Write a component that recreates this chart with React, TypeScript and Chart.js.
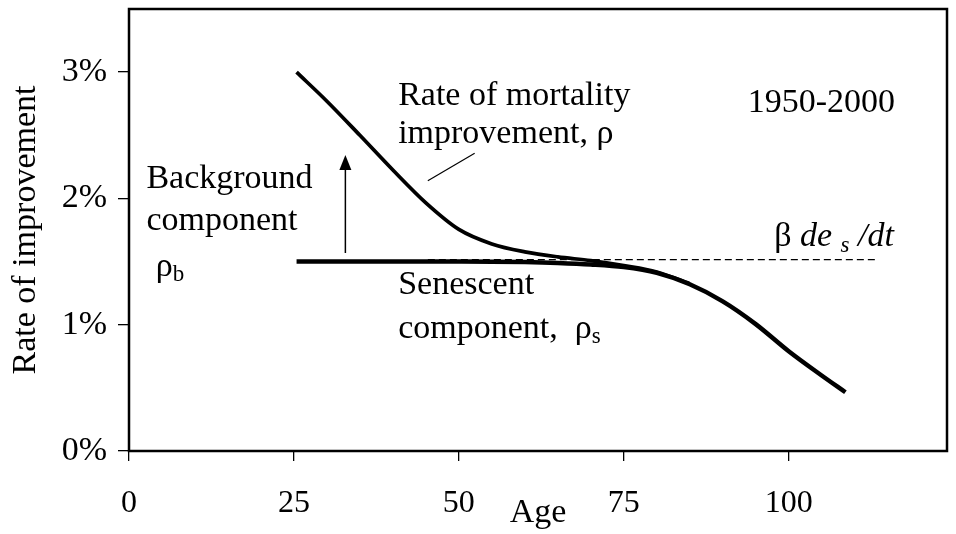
import React, { useEffect, useRef } from "react";
import { Chart, registerables } from "chart.js";

Chart.register(...registerables);

// Total rate of mortality improvement, rho (age, % per year)
const AGE_TOTAL = [25.4, 30, 35, 40, 45, 50, 55, 60, 65, 70, 75, 80, 85];
const RATE_TOTAL = [3.0, 2.77, 2.5, 2.225, 1.965, 1.755, 1.64, 1.577, 1.537, 1.508, 1.468, 1.418, 1.325];

// Senescent component, rho_s
const AGE_SEN = [25.4, 30, 35, 40, 45, 50, 55, 60, 65, 70, 75, 80, 85, 90, 95, 100, 105, 108.6];
const RATE_SEN = [1.5, 1.5, 1.5, 1.5, 1.5, 1.5, 1.499, 1.496, 1.489, 1.477, 1.456, 1.41, 1.32, 1.185, 1.005, 0.79, 0.598, 0.465];

// beta de_s/dt reference (dashed)
const AGE_DASH = [45.3, 113.3];
const RATE_DASH = [1.515, 1.515];

// Background component arrow (age, from rate, to rate)
const ARROW_AGE = 32.8;
const ARROW_RATE = [1.568, 2.344];

// Leader line for the rho label
const LEADER_AGE = [45.3, 52.4];
const LEADER_RATE = [2.14, 2.357];

const X_TICKS = [0, 25, 50, 75, 100];
const Y_TICKS = [0, 1, 2, 3];

const SERIF = "'Liberation Serif', 'Times New Roman', serif";

type Run = { t: string; italic?: boolean; small?: boolean; dy?: number };

// Label anchors in data coordinates (age, rate)
const LABELS: { age: number; rate: number; runs: Run[] }[] = [
  { age: 40.8, rate: 2.74, runs: [{ t: "Rate of mortality" }] },
  { age: 40.8, rate: 2.436, runs: [{ t: "improvement, ρ" }] },
  { age: 93.8, rate: 2.684, runs: [{ t: "1950-2000" }] },
  { age: 2.64, rate: 2.085, runs: [{ t: "Background" }] },
  { age: 2.64, rate: 1.75, runs: [{ t: "component" }] },
  { age: 4.05, rate: 1.386, runs: [{ t: "ρ" }, { t: "b", small: true, dy: 5 }] },
  { age: 40.8, rate: 1.247, runs: [{ t: "Senescent" }] },
  { age: 40.8, rate: 0.895, runs: [{ t: "component,  ρ" }, { t: "s", small: true, dy: 5 }] },
  {
    age: 97.8,
    rate: 1.625,
    runs: [
      { t: "β " },
      { t: "de", italic: true },
      { t: " ", italic: true },
      { t: "s", italic: true, small: true, dy: 6 },
      { t: " /dt", italic: true },
    ],
  },
];

const annotate = {
  id: "annotate",
  afterDatasetsDraw(chart: any) {
    const { ctx, chartArea, scales } = chart;
    const xs = scales.x;
    const ys = scales.y;
    ctx.save();
    // frame
    ctx.strokeStyle = "#000";
    ctx.lineWidth = 2.5;
    ctx.strokeRect(
      chartArea.left,
      chartArea.top,
      chartArea.right - chartArea.left,
      chartArea.bottom - chartArea.top
    );

    // arrow
    const ax = xs.getPixelForValue(ARROW_AGE);
    const ay0 = ys.getPixelForValue(ARROW_RATE[0]);
    const ay1 = ys.getPixelForValue(ARROW_RATE[1]);
    ctx.lineWidth = 1.5;
    ctx.beginPath();
    ctx.moveTo(ax, ay0);
    ctx.lineTo(ax, ay1 + 12);
    ctx.stroke();
    ctx.fillStyle = "#000";
    ctx.beginPath();
    ctx.moveTo(ax, ay1);
    ctx.lineTo(ax - 6, ay1 + 15);
    ctx.lineTo(ax + 6, ay1 + 15);
    ctx.closePath();
    ctx.fill();

    // leader line
    ctx.lineWidth = 1.2;
    ctx.beginPath();
    ctx.moveTo(xs.getPixelForValue(LEADER_AGE[0]), ys.getPixelForValue(LEADER_RATE[0]));
    ctx.lineTo(xs.getPixelForValue(LEADER_AGE[1]), ys.getPixelForValue(LEADER_RATE[1]));
    ctx.stroke();

    // labels
    ctx.textAlign = "left";
    ctx.textBaseline = "alphabetic";
    for (const lab of LABELS) {
      let px = xs.getPixelForValue(lab.age);
      const py = ys.getPixelForValue(lab.rate);
      for (const r of lab.runs) {
        const size = r.small ? 23 : 34;
        ctx.font = `${r.italic ? "italic " : ""}${size}px ${SERIF}`;
        ctx.fillText(r.t, px, py + (r.dy || 0));
        px += ctx.measureText(r.t).width;
      }
    }
    ctx.restore();
  },
};

export default function App() {
  const ref = useRef<HTMLCanvasElement | null>(null);

  useEffect(() => {
    if (!ref.current) return;
    const toXY = (a: number[], b: number[]) => a.map((v, i) => ({ x: v, y: b[i] }));
    const chart = new Chart(ref.current, {
      type: "line",
      data: {
        datasets: [
          {
            label: "Senescent component",
            data: toXY(AGE_SEN, RATE_SEN),
            borderColor: "#000",
            borderWidth: 4.5,
            pointRadius: 0,
            cubicInterpolationMode: "monotone",
            fill: false,
          },
          {
            label: "Rate of mortality improvement",
            data: toXY(AGE_TOTAL, RATE_TOTAL),
            borderColor: "#000",
            borderWidth: 3.7,
            pointRadius: 0,
            cubicInterpolationMode: "monotone",
            fill: false,
          },
          {
            label: "beta de_s/dt",
            data: toXY(AGE_DASH, RATE_DASH),
            borderColor: "#000",
            borderWidth: 1.2,
            borderDash: [7, 4],
            pointRadius: 0,
            fill: false,
          },
        ],
      },
      options: {
        animation: false,
        responsive: false,
        layout: { padding: { top: 9, right: 9, left: 0, bottom: 0 } },
        plugins: {
          legend: { display: false },
          tooltip: { enabled: false },
        },
        scales: {
          x: {
            type: "linear",
            min: 0,
            max: 124,
            afterBuildTicks: (s: any) => {
              s.ticks = X_TICKS.map((v) => ({ value: v }));
            },
            afterFit: (s: any) => {
              s.height = 83;
              s.paddingLeft = 0;
              s.paddingRight = 0;
            },
            border: { display: false },
            grid: {
              drawOnChartArea: false,
              drawTicks: true,
              tickLength: 10,
              color: "#000",
              lineWidth: 1.3,
            },
            ticks: {
              color: "#000",
              font: { family: SERIF, size: 32 },
              padding: 23,
              maxRotation: 0,
            },
            title: {
              display: true,
              text: "Age",
              color: "#000",
              font: { family: SERIF, size: 34 },
              padding: { top: 0, bottom: 1 },
            },
          },
          y: {
            type: "linear",
            min: 0,
            max: 3.5,
            afterBuildTicks: (s: any) => {
              s.ticks = Y_TICKS.map((v) => ({ value: v }));
            },
            afterFit: (s: any) => {
              s.width = 129;
              s.paddingTop = 0;
              s.paddingBottom = 0;
            },
            border: { display: false },
            grid: {
              drawOnChartArea: false,
              drawTicks: true,
              tickLength: 11,
              color: "#000",
              lineWidth: 1.3,
            },
            ticks: {
              color: "#000",
              font: { family: SERIF, size: 34 },
              padding: 11,
              callback: (v: any) => `${v}%`,
            },
            title: {
              display: true,
              text: "Rate of improvement",
              color: "#000",
              font: { family: SERIF, size: 34 },
              padding: { top: 6, bottom: 0 },
            },
          },
        },
      },
      plugins: [annotate],
    });
    return () => chart.destroy();
  }, []);

  return (
    <div style={{ position: "fixed", left: 0, top: 0, width: 956, height: 534, background: "#fff" }}>
      <canvas ref={ref} width={956} height={534} />
    </div>
  );
}
